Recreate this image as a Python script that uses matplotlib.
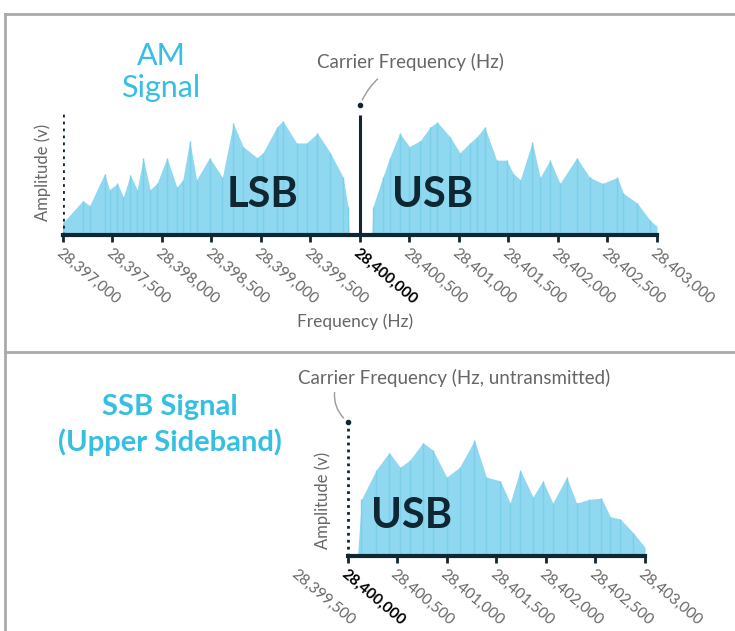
import matplotlib.pyplot as plt
from matplotlib.lines import Line2D

W, H = 735, 631
plt.rcParams['font.family'] = ['Lato', 'DejaVu Sans']

# spectrum outline (Hz, relative amplitude)
lsb_freq = [28397000, 28397200, 28397270, 28397420, 28397470, 28397550, 28397610,
            28397680, 28397750, 28397810, 28397880, 28397950, 28398050, 28398150,
            28398210, 28398280, 28398350, 28398480, 28398610, 28398720, 28398820,
            28398960, 28399020, 28399160, 28399220, 28399360, 28399460, 28399570,
            28399700, 28399830, 28399880, 28399890]
lsb_amp = [0.10, 0.28, 0.24, 0.50, 0.37, 0.42, 0.31, 0.49, 0.37, 0.63, 0.37, 0.42,
           0.63, 0.39, 0.45, 0.77, 0.45, 0.63, 0.47, 0.91, 0.72, 0.63, 0.67, 0.88,
           0.93, 0.75, 0.75, 0.83, 0.67, 0.47, 0.23, 0.0]

usb_freq = [28400120, 28400130, 28400230, 28400300, 28400400, 28400500, 28400610,
            28400710, 28400780, 28400910, 28401010, 28401110, 28401180, 28401260,
            28401380, 28401480, 28401550, 28401620, 28401740, 28401820, 28401920,
            28402020, 28402190, 28402320, 28402450, 28402600, 28402660, 28402800,
            28402930, 28403000]
usb_amp = [0.0, 0.23, 0.47, 0.63, 0.83, 0.72, 0.77, 0.88, 0.92, 0.80, 0.67, 0.75,
           0.80, 0.88, 0.61, 0.61, 0.50, 0.45, 0.76, 0.47, 0.61, 0.42, 0.63, 0.47,
           0.42, 0.47, 0.34, 0.26, 0.12, 0.07]

ssb_freq = [28400100, 28400140, 28400290, 28400420, 28400530, 28400630, 28400760,
            28400860, 28401000, 28401130, 28401280, 28401400, 28401540, 28401640,
            28401740, 28401870, 28401970, 28402070, 28402210, 28402310, 28402440,
            28402560, 28402650, 28402750, 28402880, 28403000]
ssb_amp = [0.0, 0.46, 0.70, 0.84, 0.72, 0.78, 0.92, 0.86, 0.64, 0.72, 0.94, 0.64,
           0.61, 0.43, 0.70, 0.48, 0.61, 0.43, 0.64, 0.43, 0.46, 0.47, 0.32, 0.30,
           0.19, 0.07]

carrier = 28400000
top_ticks = list(range(28397000, 28403001, 500))
bot_ticks = list(range(28399500, 28403001, 500))

FILL = '#8fd8f0'
STRIPE = '#7ccfeb'
CYAN = '#35bfe2'
GREY = '#666666'
DARK = '#0f2633'


def px_axes(x0, x1, ybase, ytop):
    return [x0 / W, 1 - ybase / H, (x1 - x0) / W, (ybase - ytop) / H]


def draw_band(ax, freq, amp):
    ax.fill_between(freq, amp, color=FILL, lw=0)
    ax.vlines(freq, 0, amp, color=STRIPE, lw=1)


def style_axis(ax, ticks, xlim, ylim, spine_from):
    for s in ('top', 'right', 'left'):
        ax.spines[s].set_visible(False)
    ax.spines['bottom'].set_color(DARK)
    ax.spines['bottom'].set_linewidth(3)
    ax.spines['bottom'].set_bounds(spine_from, xlim[1])
    ax.set_xlim(*xlim)
    ax.set_ylim(*ylim)
    ax.set_yticks([])
    ax.set_xticks(ticks)
    ax.set_xticklabels([f'{t:,}' for t in ticks], rotation=-40, ha='left',
                       va='top', rotation_mode='anchor', fontsize=11, color=GREY)
    ax.tick_params(axis='x', length=5, width=2, color=DARK, pad=3)
    for t, lab in zip(ticks, ax.get_xticklabels()):
        if t == carrier:
            lab.set_color('black')
            lab.set_fontweight('bold')
    ax.patch.set_alpha(0)


fig = plt.figure(figsize=(W / 100, H / 100), dpi=100)

# grey frame lines
for xs, ys in (([5, W], [14, 14]), ([5, 5], [14, H]), ([5, W], [352, 352])):
    fig.add_artist(Line2D([x / W for x in xs], [1 - y / H for y in ys],
                          color='#aaaaaa', lw=2))

# ---- AM panel
ax1 = fig.add_axes(px_axes(63, 657, 235, 100))
draw_band(ax1, lsb_freq, lsb_amp)
draw_band(ax1, usb_freq, usb_amp)
style_axis(ax1, top_ticks, (28397000, 28403000), (0, 1.1), 28397000)
ax1.vlines(top_ticks[0], 0, 1.0, color=DARK, lw=2, linestyles=(0, (1, 1.5)))
ax1.vlines(carrier, 0, 0.98, color=DARK, lw=2.2)
ax1.plot([carrier], [1.06], 'o', color=DARK, ms=3, clip_on=False)
ax1.annotate('Carrier Frequency (Hz)', xy=(carrier, 1.06),
             xytext=(410 / W, 1 - 62 / H), textcoords='figure fraction',
             ha='center', va='center', fontsize=13.5, color=GREY,
             arrowprops=dict(arrowstyle='-', color='#999999', lw=1,
                             connectionstyle='arc3,rad=0.25', shrinkA=6, shrinkB=4))
ax1.text(263 / W, 1 - 195 / H, 'LSB', transform=fig.transFigure, ha='center',
         va='center', fontsize=30, fontweight='bold', color=DARK)
ax1.text(433 / W, 1 - 195 / H, 'USB', transform=fig.transFigure, ha='center',
         va='center', fontsize=30, fontweight='bold', color=DARK)
fig.text(161 / W, 1 - 72 / H, 'AM\nSignal', ha='center', va='center',
         fontsize=22, color=CYAN, linespacing=1.15)
fig.text(43 / W, 1 - 172 / H, 'Amplitude (v)', rotation=90, ha='center',
         va='center', fontsize=12, color=GREY)
fig.text(355 / W, 1 - 322 / H, 'Frequency (Hz)', ha='center', va='center',
         fontsize=12.5, color=GREY)

# ---- SSB panel
ax2 = fig.add_axes(px_axes(298, 645, 556, 418))
draw_band(ax2, ssb_freq, ssb_amp)
style_axis(ax2, bot_ticks, (28399500, 28403000), (0, 1.12), carrier)
ax2.get_xaxis().get_major_ticks()[0].tick1line.set_visible(False)
ax2.vlines(carrier, 0, 1.07, color=DARK, lw=2, linestyles=(0, (1, 1.5)))
ax2.plot([carrier], [1.09], 'o', color=DARK, ms=3, clip_on=False)
ax2.annotate('Carrier Frequency (Hz, untransmitted)', xy=(carrier, 1.09),
             xytext=(454 / W, 1 - 378 / H), textcoords='figure fraction',
             ha='center', va='center', fontsize=13.5, color=GREY,
             arrowprops=dict(arrowstyle='-', color='#999999', lw=1,
                             relpos=(0.12, 0),
                             connectionstyle='arc3,rad=0.3', shrinkA=2, shrinkB=4))
ax2.text(412 / W, 1 - 516 / H, 'USB', transform=fig.transFigure, ha='center',
         va='center', fontsize=30, fontweight='bold', color=DARK)
fig.text(170 / W, 1 - 425 / H, 'SSB Signal\n(Upper Sideband)', ha='center',
         va='center', fontsize=21, fontweight='bold', color=CYAN, linespacing=1.4)
fig.text(323 / W, 1 - 500 / H, 'Amplitude (v)', rotation=90, ha='center',
         va='center', fontsize=12, color=GREY)

fig.savefig('out.png', dpi=100)
